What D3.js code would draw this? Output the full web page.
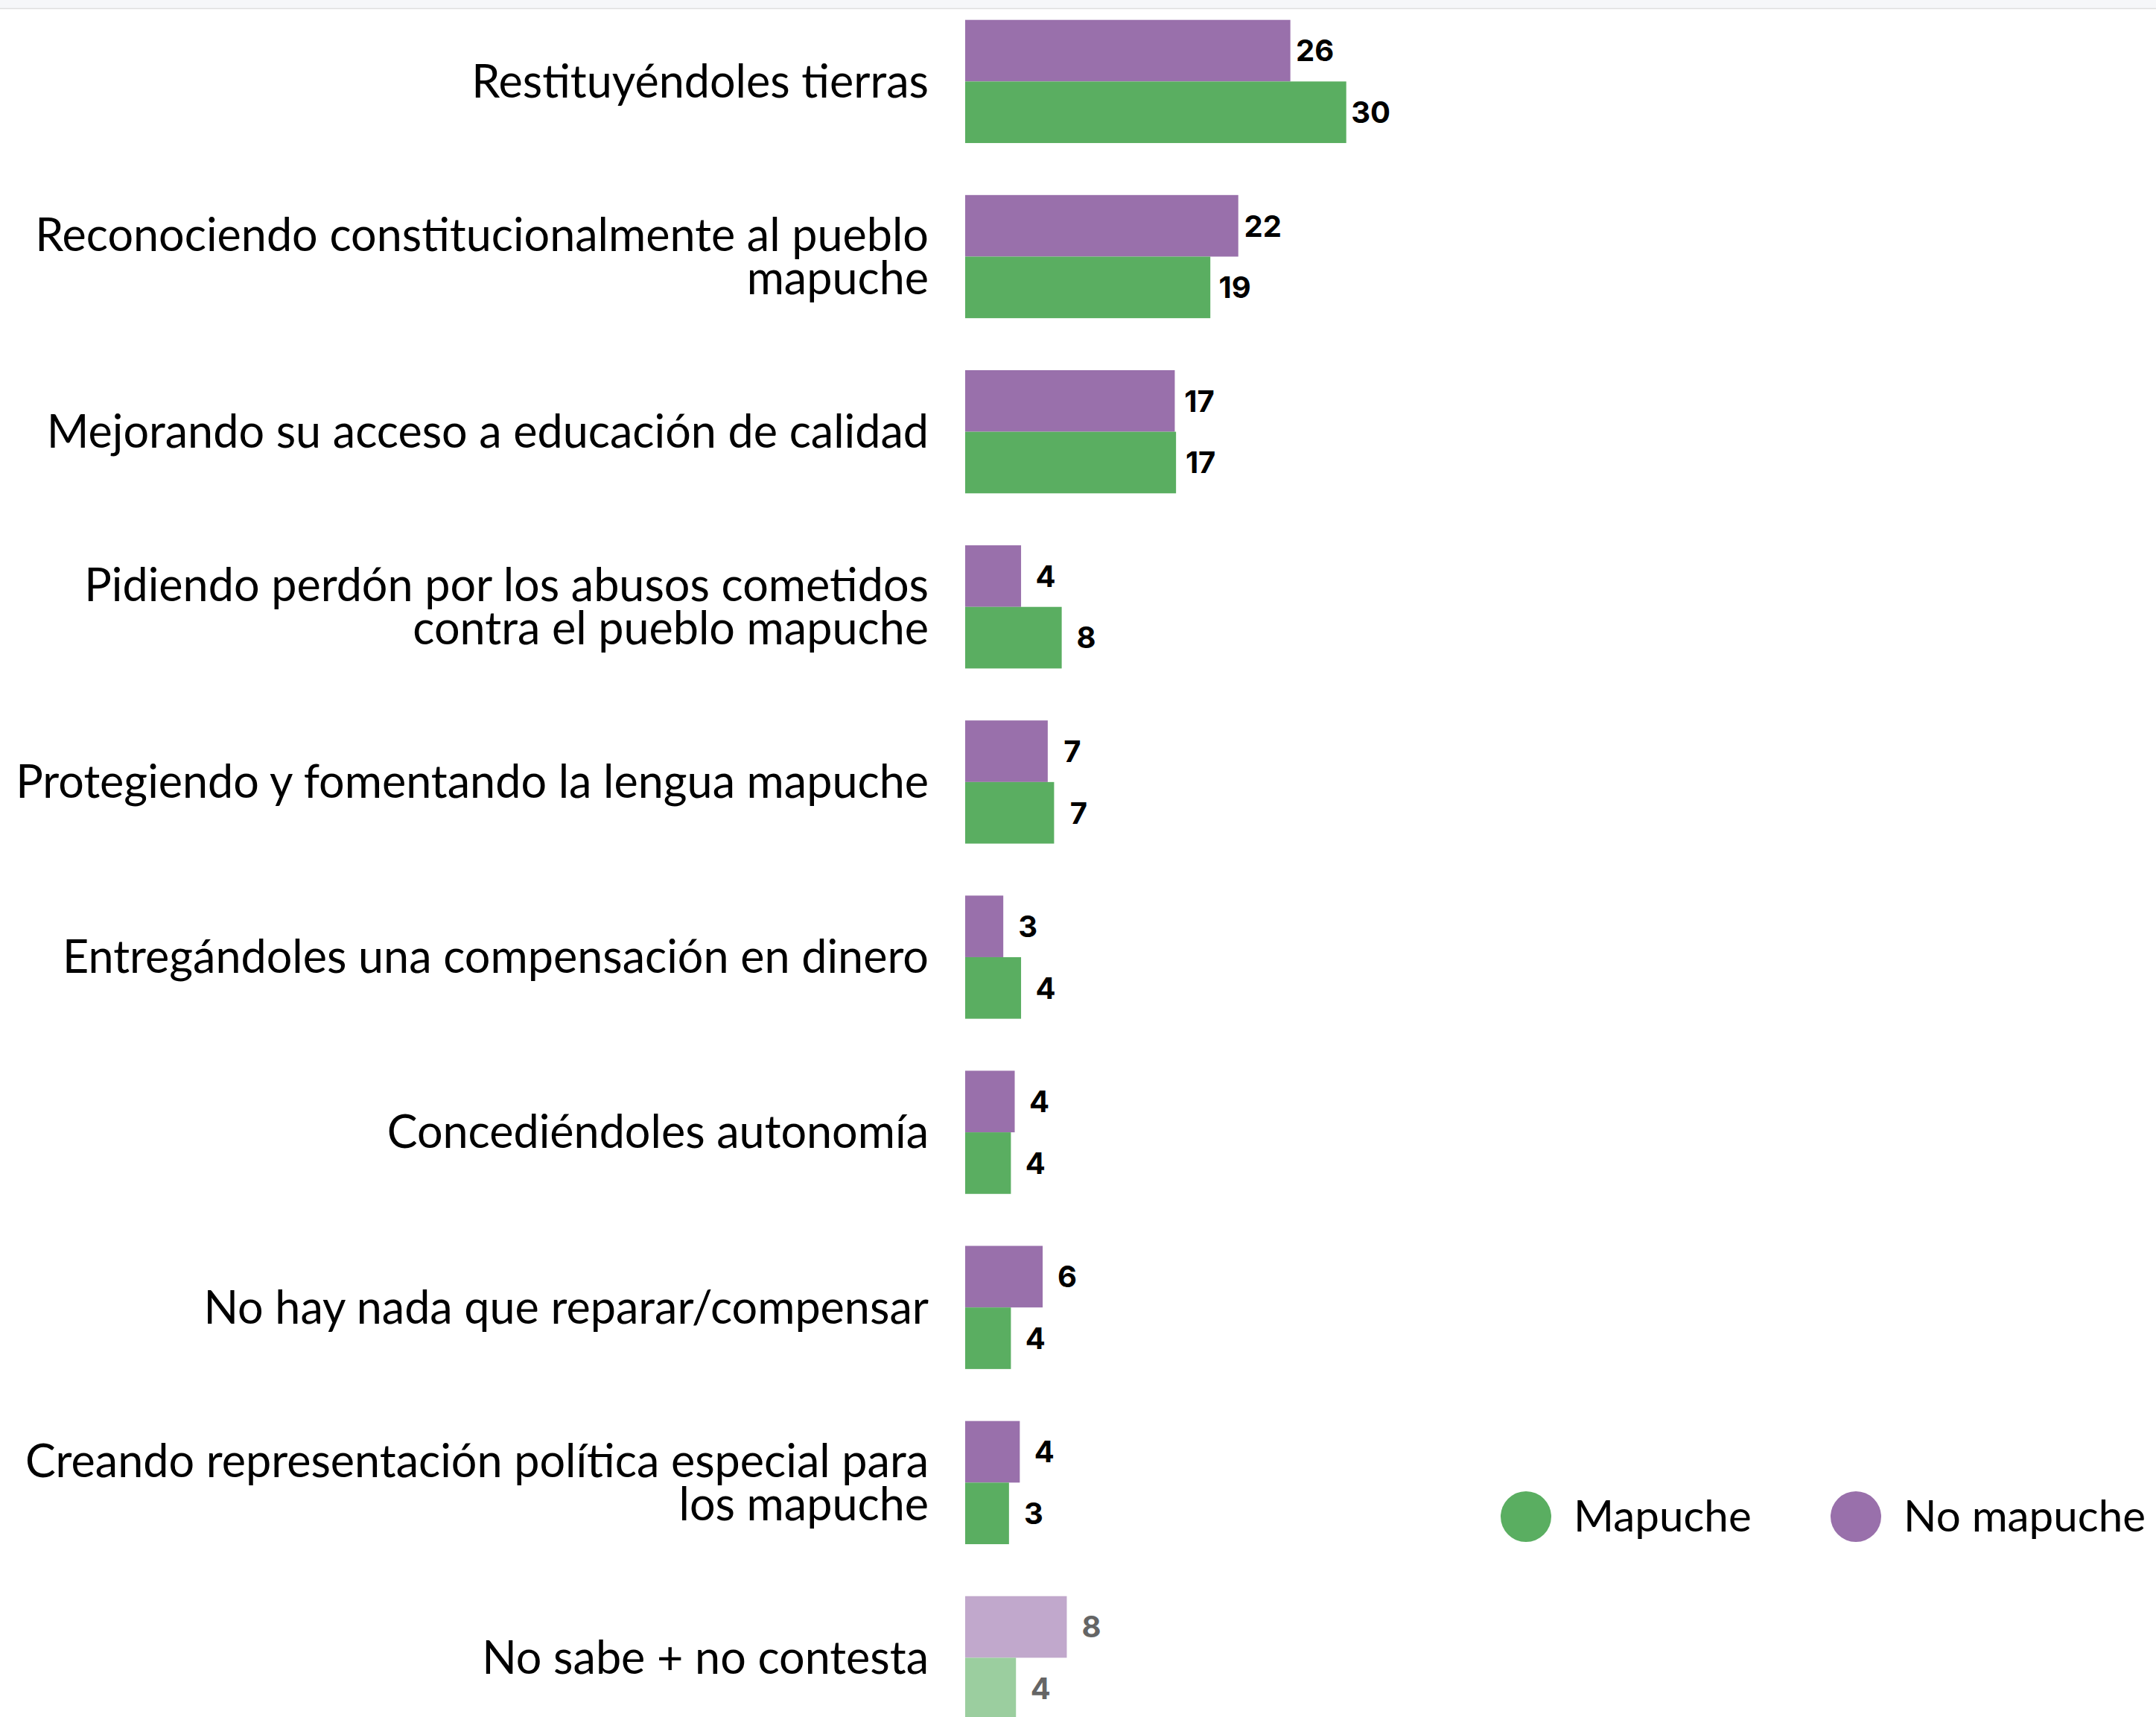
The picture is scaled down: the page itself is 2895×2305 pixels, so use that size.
<!DOCTYPE html>
<html>
<head>
<meta charset="utf-8">
<script src="https://cdn.jsdelivr.net/npm/d3@7"></script>
<style>
  html, body { margin: 0; padding: 0; background: #ffffff; }
  svg { display: block; }
</style>
</head>
<body>
<svg id="chart" width="2895" height="2305"></svg>
<script>
// ---- data ----
const categories = [
  "Restituyéndoles tierras",
  "Reconociendo constitucionalmente al pueblo\nmapuche",
  "Mejorando su acceso a educación de calidad",
  "Pidiendo perdón por los abusos cometidos\ncontra el pueblo mapuche",
  "Protegiendo y fomentando la lengua mapuche",
  "Entregándoles una compensación en dinero",
  "Concediéndoles autonomía",
  "No hay nada que reparar/compensar",
  "Creando representación política especial para\nlos mapuche",
  "No sabe + no contesta"
];
const series = ["No mapuche", "Mapuche"];
const noMapuche = [25.6, 21.5, 16.5, 4.4, 6.5, 3.0, 3.9, 6.1, 4.3, 8.0];
const mapuche   = [30.0, 19.3, 16.6, 7.6, 7.0, 4.4, 3.6, 3.6, 3.45, 4.0];
const fadedCategory = "No sabe + no contesta";
const legendOrder = ["Mapuche", "No mapuche"];

// ---- styles ----
const colors = { "No mapuche": "#9970ab", "Mapuche": "#5aae61" };
const labelFont = "Lato, 'Open Sans', sans-serif";
const valueFont = "Inter, Roboto, sans-serif";

const svg = d3.select("#chart");
const W = 2895, H = 2305;

// top strip
svg.append("rect").attr("x", 0).attr("y", 0).attr("width", W).attr("height", 11)
  .attr("fill", "#f6f7f9");
svg.append("line").attr("x1", 0).attr("x2", W).attr("y1", 11.5).attr("y2", 11.5)
  .attr("stroke", "#dedede").attr("stroke-width", 1.5);

const rows = categories.map((c, i) => ({
  cat: c,
  values: { "No mapuche": noMapuche[i], "Mapuche": mapuche[i] }
}));

const x = d3.scaleLinear()
  .domain([0, d3.max(mapuche.concat(noMapuche))])
  .range([1296, 1807.7]);

const y = d3.scaleBand()
  .domain(categories)
  .range([26.7, 2308.1])
  .paddingInner(0.2968)
  .paddingOuter(0);

const ySub = d3.scaleBand()
  .domain(series)
  .range([0, y.bandwidth()])
  .padding(0);

// measure label font size to fit reference width
const probe = svg.append("text").attr("font-family", labelFont).attr("font-size", 100)
  .text("Protegiendo y fomentando la lengua mapuche");
const wProbe = probe.node().getComputedTextLength();
probe.remove();
const labelSize = 100 * 1226 / wProbe;

const g = svg.append("g");

const groups = g.selectAll("g.row").data(rows).join("g")
  .attr("class", "row")
  .attr("transform", d => `translate(0,${y(d.cat)})`);

const marks = groups.append("g")
  .attr("opacity", d => d.cat === fadedCategory ? 0.6 : 1);

marks.selectAll("rect").data(d => series.map(s => ({ s, v: d.values[s] }))).join("rect")
  .attr("x", x(0))
  .attr("y", d => ySub(d.s))
  .attr("width", d => x(d.v) - x(0))
  .attr("height", ySub.bandwidth())
  .attr("fill", d => colors[d.s]);

marks.selectAll("text.val").data(d => series.map(s => ({ s, v: d.values[s] }))).join("text")
  .attr("class", "val")
  .attr("x", d => x(d.v) + 33)
  .attr("y", d => ySub(d.s) + ySub.bandwidth() / 2)
  .attr("dy", "0.36em")
  .attr("text-anchor", "middle")
  .attr("font-family", valueFont)
  .attr("font-weight", 700)
  .attr("font-size", 40)
  .attr("fill", "#000")
  .text(d => Math.round(d.v));

// category labels
const lineGap = 58;
groups.append("text")
  .attr("class", "cat")
  .attr("text-anchor", "end")
  .attr("font-family", labelFont)
  .attr("font-size", labelSize)
  .attr("fill", "#000")
  .each(function(d) {
    const lines = d.cat.split("\n");
    const cy = y.bandwidth() / 2;
    const start = cy - (lines.length - 1) * lineGap / 2;
    const t = d3.select(this);
    lines.forEach((ln, k) => {
      t.append("tspan").attr("x", 1247).attr("y", start + k * lineGap)
        .attr("dy", "0.35em").text(ln);
    });
  });

// legend
const legendSize = labelSize * 0.955;
const legendPos = { "Mapuche": 2049, "No mapuche": 2492 };
const legend = svg.append("g").selectAll("g").data(legendOrder).join("g")
  .attr("transform", d => `translate(${legendPos[d]},2036)`);
legend.append("circle").attr("r", 34).attr("fill", d => colors[d]);
legend.append("text").attr("x", 64).attr("dy", "0.35em")
  .attr("font-family", labelFont).attr("font-size", legendSize)
  .attr("fill", "#000").text(d => d);
</script>
</body>
</html>
